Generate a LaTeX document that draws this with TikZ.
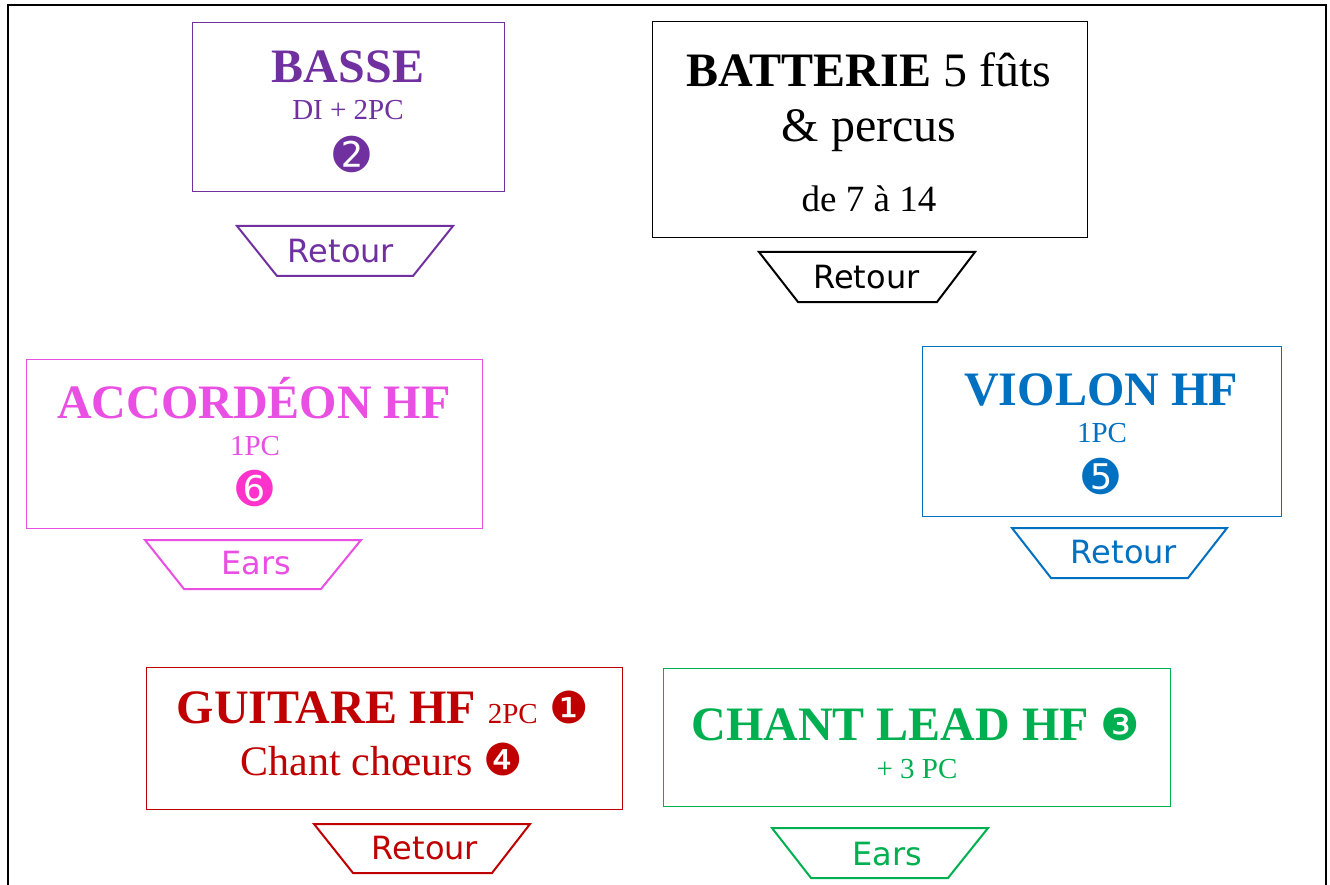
\documentclass[tikz,border=0pt]{standalone}
\usepackage{fontspec}
\setmainfont{Liberation Serif}
\newfontfamily\dv{DejaVu Sans}
\definecolor{cpurple}{HTML}{7030A0}
\definecolor{cpink}{HTML}{E94FE3}
\definecolor{cpinknum}{HTML}{FF33CC}
\definecolor{cblue}{HTML}{0070C0}
\definecolor{cred}{HTML}{C00000}
\definecolor{cgreen}{HTML}{00B050}
\newcommand\fs[1]{\fontsize{#1}{#1}\selectfont}
\tikzset{
  box/.style={draw, line width=1pt, inner sep=0pt},
  tray/.style={line width=2pt, line join=miter},
  lbl/.style={anchor=base, inner sep=0pt},
  num/.style={inner sep=0pt, font=\dv\fs{44}},
  title/.style={lbl, font=\fs{48}\bfseries},
  sub/.style={lbl, font=\fs{29}},
  ret/.style={lbl, font=\dv\fs{32}},
}
\begin{document}
\begin{tikzpicture}[x=1pt,y=-1pt]
\useasboundingbox (0,0) rectangle (1330,885);
\fill[white] (0,0) rectangle (1330,885);
\draw[line width=2pt, line join=miter] (8,887) -- (8,5) -- (1326,5) -- (1326,887);

% BASSE
\node[box, cpurple, minimum width=312pt, minimum height=169pt] (basse) at (348,107.5) {};
\node[title, text=cpurple] (basseT) at (348,83) {BASSE};
\node[sub, text=cpurple] (basseS) at (348,120) {DI + 2PC};
\node[num, text=cpurple] (basseN) at (352,154) {➋};
\draw[tray, cpurple] (237,226) -- (453,226) -- (413,276) -- (277,276) -- cycle;
\node[ret, text=cpurple] (basseR) at (341,262) {Retour};

% BATTERIE
\node[box, black, minimum width=435pt, minimum height=216pt] (batt) at (869.5,130) {};
\node[lbl, font=\fs{48}] (battT) at (869,87) {\textbf{BATTERIE} 5 fûts};
\node[lbl, font=\fs{48}] (battT2) at (869,142) {\& percus};
\node[lbl, font=\fs{37}] (battS) at (869,212) {de 7 à 14};
\draw[tray, black] (759,252) -- (975,252) -- (937,302) -- (798,302) -- cycle;
\node[ret] (battR) at (866.5,289) {Retour};

% ACCORDEON
\node[box, cpink, minimum width=456pt, minimum height=169pt] (acc) at (254,443.5) {};
\node[title, text=cpink] (accT) at (254,418) {ACCORDÉON HF};
\node[sub, text=cpink] (accS) at (255,455) {1PC};
\node[num, text=cpinknum] (accN) at (254.5,488.5) {➏};
\draw[tray, cpink] (145,540) -- (361,540) -- (321,589) -- (184,589) -- cycle;
\node[ret, text=cpink] (accR) at (256.5,574) {Ears};

% VIOLON
\node[box, cblue, minimum width=359pt, minimum height=170pt] (vio) at (1101.5,431) {};
\node[title, text=cblue] (vioT) at (1101,405) {VIOLON HF};
\node[sub, text=cblue] (vioS) at (1102,442) {1PC};
\node[num, text=cblue] (vioN) at (1101,476.5) {➎};
\draw[tray, cblue] (1012,528) -- (1227,528) -- (1188,578) -- (1051,578) -- cycle;
\node[ret, text=cblue] (vioR) at (1124,563) {Retour};

% GUITARE
\node[box, cred, minimum width=476pt, minimum height=142pt] (gui) at (384,738) {};
\node[lbl, text=cred, font=\fs{48}] (guiT) at (383,723) {\textbf{GUITARE HF} {\fs{29}2PC} {\dv\fs{44}❶}};
\node[lbl, text=cred, font=\fs{42}] (guiS) at (382,775) {Chant chœurs {\dv\fs{44}❹}};
\draw[tray, cred] (314,824) -- (530,824) -- (492,873) -- (353,873) -- cycle;
\node[ret, text=cred] (guiR) at (425,859) {Retour};

% CHANT LEAD
\node[box, cgreen, minimum width=507pt, minimum height=138pt] (chant) at (916.5,737) {};
\node[lbl, text=cgreen, font=\fs{48}] (chantT) at (916,740) {\textbf{CHANT LEAD HF} {\dv\fs{44}❸}};
\node[sub, text=cgreen] (chantS) at (917,778) {+ 3 PC};
\draw[tray, cgreen] (772,828) -- (988,828) -- (948,878) -- (811,878) -- cycle;
\node[ret, text=cgreen] (chantR) at (887,865) {Ears};
\end{tikzpicture}
\end{document}
